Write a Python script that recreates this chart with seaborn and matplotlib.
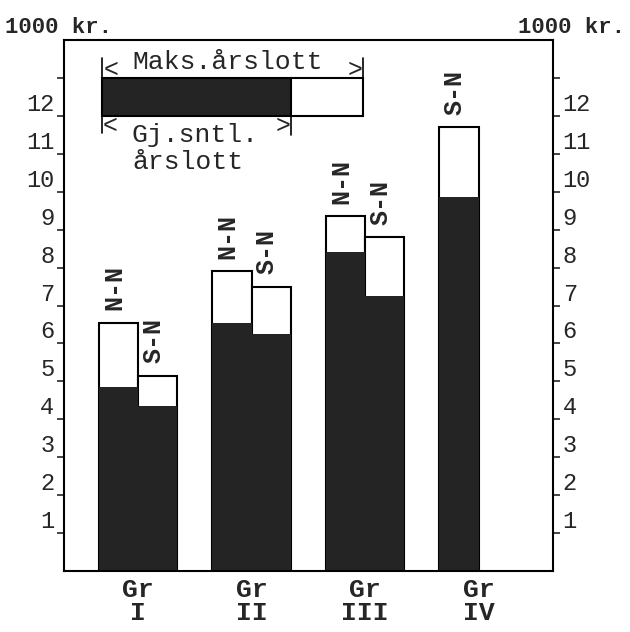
import numpy as np
import pandas as pd
import matplotlib
matplotlib.use('Agg')
import matplotlib.pyplot as plt
import seaborn as sns
from matplotlib.patches import Rectangle

grupper = ['Gr\nI', 'Gr\nII', 'Gr\nIII', 'Gr\nIV']
maks_venstre = [6.55, 7.9, 9.35, 11.7]
maks_hoyre = [5.15, 7.5, 8.8, np.nan]
snitt_venstre = [4.85, 6.55, 8.4, 9.85]
snitt_hoyre = [4.35, 6.25, 7.25, np.nan]
etiketter_venstre = ['N-N', 'N-N', 'N-N', 'S-N']
etiketter_hoyre = ['S-N', 'S-N', 'S-N', '']
y_ticks = list(range(1, 14))
y_tick_labels = [str(i) for i in range(1, 13)] + ['']

df = pd.DataFrame({
    'gruppe': grupper * 2,
    'plass': ['v'] * 4 + ['h'] * 4,
    'maks': maks_venstre + maks_hoyre,
    'snitt': snitt_venstre + snitt_hoyre,
})

sns.set_style('white')
plt.rcParams['font.family'] = ['Liberation Mono', 'DejaVu Sans Mono']

mork = '#242424'

fig = plt.figure(figsize=(6.3, 6.32), dpi=100)
ax = fig.add_axes([0.1016, 0.0965, 0.7762, 0.8402])

sns.barplot(data=df, x='gruppe', y='maks', hue='plass', hue_order=['v', 'h'],
            palette=['white', 'white'], edgecolor='black', linewidth=1.5,
            width=0.69, gap=0, errorbar=None, legend=False, ax=ax)
sns.barplot(data=df, x='gruppe', y='snitt', hue='plass', hue_order=['v', 'h'],
            palette=[mork, mork], linewidth=0, saturation=1,
            width=0.69, gap=0, errorbar=None, legend=False, ax=ax)

# etiketter over søylene
for cont, labels in zip(ax.containers[:2], [etiketter_venstre, etiketter_hoyre]):
    if len(cont) != len(labels):
        labels = [l for l in labels if l]
    for bar, lab in zip(cont, labels):
        h = bar.get_height()
        if not lab or np.isnan(h):
            continue
        ax.annotate(lab, (bar.get_x() + bar.get_width() / 2, h),
                    xytext=(-3, 9), textcoords='offset points', rotation=90,
                    ha='center', va='bottom', fontsize=18, fontweight='bold')

ax.set_ylim(0, 14)
ax.set_xlim(-0.652, 3.656)
ax.set_xlabel('')
ax.set_ylabel('')
ax.set_yticks(y_ticks, y_tick_labels)
ax.tick_params(axis='y', left=True, right=True, labelleft=True, labelright=True,
               direction='out', length=5, width=1.2, labelsize=17, pad=2)
ax.tick_params(axis='x', length=0, labelsize=19, pad=5)
for t in ax.yaxis.get_major_ticks():
    t.label1.set_va('bottom')
    t.label2.set_va('bottom')
for t in ax.get_xticklabels():
    t.set_linespacing(0.95)
    t.set_fontweight('bold')
for s in ax.spines.values():
    s.set_visible(True)
    s.set_color('black')
    s.set_linewidth(1.5)

# forklaring
ax.add_patch(Rectangle((0.0777, 0.857), 0.3863, 0.0714, transform=ax.transAxes,
                       facecolor=mork, edgecolor='black', lw=1.5))
ax.add_patch(Rectangle((0.464, 0.857), 0.147, 0.0714, transform=ax.transAxes,
                       facecolor='white', edgecolor='black', lw=1.5))
ax.plot([0.0777, 0.0777], [0.825, 0.966], transform=ax.transAxes, color='black', lw=1.2)
ax.plot([0.611, 0.611], [0.930, 0.966], transform=ax.transAxes, color='black', lw=1.2)
ax.plot([0.464, 0.464], [0.821, 0.857], transform=ax.transAxes, color='black', lw=1.2)
ax.text(0.335, 0.958, 'Maks.årslott', transform=ax.transAxes, ha='center', va='center', fontsize=19)
ax.text(0.097, 0.943, '<', transform=ax.transAxes, ha='center', va='center', fontsize=18)
ax.text(0.595, 0.943, '>', transform=ax.transAxes, ha='center', va='center', fontsize=18)
ax.text(0.095, 0.838, '<', transform=ax.transAxes, ha='center', va='center', fontsize=18)
ax.text(0.448, 0.838, '>', transform=ax.transAxes, ha='center', va='center', fontsize=18)
ax.text(0.139, 0.821, 'Gj.sntl.', transform=ax.transAxes, ha='left', va='center', fontsize=19)
ax.text(0.139, 0.770, 'årslott', transform=ax.transAxes, ha='left', va='center', fontsize=19)

fig.text(0.008, 0.956, '1000 kr.', ha='left', va='center', fontsize=16, fontweight='bold')
fig.text(0.992, 0.956, '1000 kr.', ha='right', va='center', fontsize=16, fontweight='bold')

fig.savefig('out.png', dpi=100)
